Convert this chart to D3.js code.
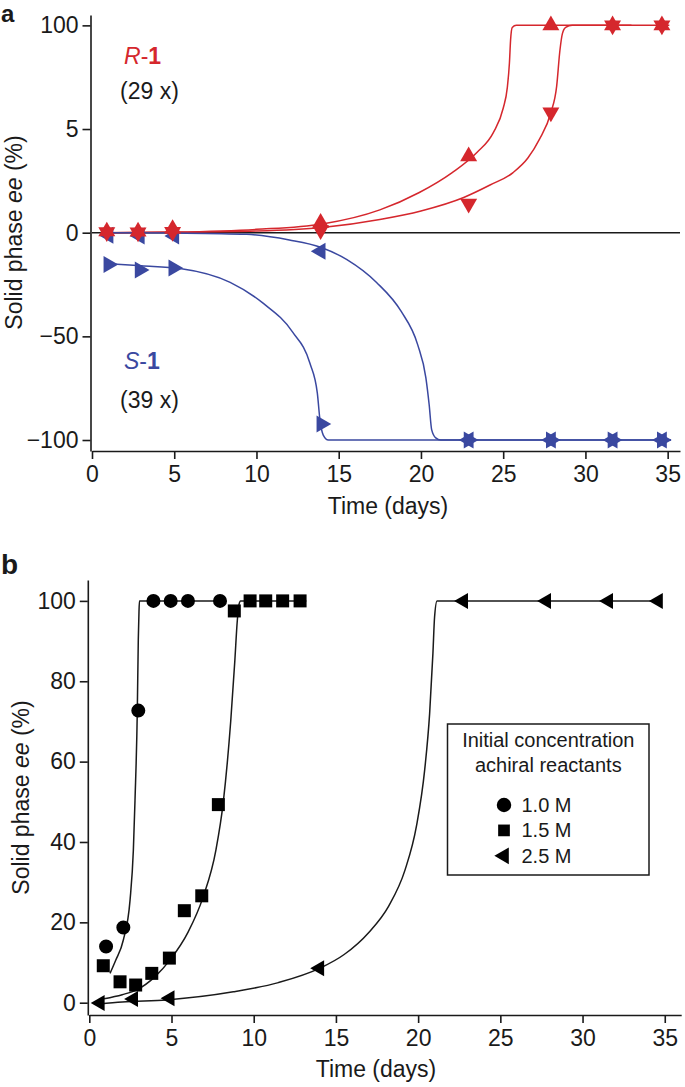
<!DOCTYPE html>
<html><head><meta charset="utf-8">
<script src="https://cdn.jsdelivr.net/npm/d3@7"></script>
<style>
body{margin:0;background:#fff}
svg{display:block}
text{font-family:"Liberation Sans",Arial,Helvetica,sans-serif}
</style>
</head><body>
<svg id="chart" width="685" height="1087"></svg>
<script>
// ---------- Panel a data ----------
const aXTicks = [0, 5, 10, 15, 20, 25, 30, 35];
const aXTickLabels = ["0", "5", "10", "15", "20", "25", "30", "35"];
const aYTicks = [-100, -50, 0, 50, 100];
const aYTickLabels = ["\u2212100", "\u221250", "0", "5", "100"];

const aRDays = [0.9, 2.8, 4.9, 13.9, 22.9, 27.9, 31.65, 34.65];
const aRUpValues = [0.6, 0.5, 1.8, 4.8, 36.8, 100, 100, 100];
const aRDownValues = [0.3, 0.1, 0.4, 1.2, 14, 58, 100, 100];
const aSLeftDays = [1.0, 2.9, 5.0, 13.9, 22.9, 27.9, 31.65, 34.65];
const aSLeftValues = [-1.2, -1.6, -1.6, -9, -100, -100, -100, -100];
const aSRightDays = [1.0, 2.9, 4.95, 13.95, 22.9, 27.9, 31.65, 34.65];
const aSRightValues = [-15.3, -18, -17, -92.3, -100, -100, -100, -100];

// fitted curves: [day, ee]
const aRUpCurve = [[0.9,0],[5,0.3],[10,1.6],[14,4.2],[17.5,11],[19.9,19.4],[21.9,29],[23.4,38.7],[24.4,48.3],[25.0,60],[25.25,70],[25.38,82],[25.45,93],[25.55,99],[25.8,100],[32.8,100]];
const aRDownCurve = [[0.9,0],[5,0.2],[10,0.8],[14,2.5],[17.5,6.4],[20,10.5],[22.6,17],[24.2,23],[25.6,29],[26.5,36],[27.2,45],[27.9,58],[28.25,70.6],[28.45,88],[28.6,96],[28.8,99],[29.2,100],[35.1,100]];
const aSLeftCurve = [[0.9,0],[5,-0.2],[9.4,-0.8],[12,-3.5],[13.9,-7],[15.5,-13],[17.3,-24],[18.8,-38],[19.8,-54],[20.3,-70],[20.5,-83],[20.65,-95],[20.9,-99],[21.2,-100],[35.2,-100]];
const aSRightCurve = [[1.0,-15],[3,-16],[5.35,-17.3],[8.4,-24],[10.4,-34],[12.2,-48],[13.25,-63],[13.7,-77.4],[13.86,-90.3],[14.06,-97.6],[14.37,-100],[35.2,-100]];

// ---------- Panel b data ----------
const bXTicks = [0, 5, 10, 15, 20, 25, 30, 35];
const bXTickLabels = ["0", "5", "10", "15", "20", "25", "30", "35"];
const bYTicks = [0, 20, 40, 60, 80, 100];
const bYTickLabels = ["0", "20", "40", "60", "80", "100"];

const bCircleDays = [1.02, 2.07, 2.98, 3.9, 4.95, 6.0, 7.95];
const bCircleValues = [14, 18.7, 72.7, 100, 100, 100, 100];
const bSquareDays = [0.85, 1.87, 2.82, 3.8, 4.87, 5.78, 6.84, 7.85, 8.82, 9.78, 10.73, 11.76, 12.82];
const bSquareValues = [9.2, 5.2, 4.4, 7.3, 11.1, 22.9, 26.6, 49.3, 97.5, 100, 100, 100, 100];
const bTriDays = [0.65, 2.68, 4.9, 14.0, 22.75, 27.8, 31.57, 34.6];
const bTriValues = [-0.1, 0.9, 1.1, 8.6, 100, 100, 100, 100];

const bCircleCurve = [[1.26,7.3],[1.6,10.5],[2.07,15.6],[2.48,25.6],[2.68,38],[2.78,50.4],[2.92,72.7],[2.98,90.3],[3.02,97],[3.05,100],[8.2,100]];
const bSquareCurve = [[0.9,1],[2,2],[2.88,3.2],[4,6.5],[4.9,10.6],[6,17.5],[6.93,26.4],[7.7,38],[8.15,50],[8.6,70],[8.85,85],[9.0,95],[9.1,99],[9.2,100],[13.2,100]];
const bTriCurve = [[0.6,-0.3],[2,0.2],[4.7,0.7],[8.76,2.7],[11.5,5],[14.03,8.6],[15.5,12],[17,17.5],[18.2,24],[19.2,33],[19.9,44],[20.4,58],[20.7,72],[20.9,87],[21.0,96],[21.15,100],[34.7,100]];

const legendTitle = ["Initial concentration", "achiral reactants"];
const legendLabels = ["1.0 M", "1.5 M", "2.5 M"];

// ---------- drawing ----------
const svg = d3.select("#chart");
const RED = "#d5272d", BLUE = "#3a48a0", INK = "#1a1a1a";
const FS = 23;

const xA = d3.scaleLinear().domain([0, 35.75]).range([92, 680]);
const yA = d3.scaleLinear().domain([-105.3, 105]).range([451, 15]);
const xB = d3.scaleLinear().domain([0, 36]).range([89.3, 681.2]);
const yB = d3.scaleLinear().domain([-3.06, 105.2]).range([1015, 580]);

function styleAxis(g) {
  g.select(".domain").attr("stroke", INK).attr("stroke-width", 1.6);
  g.selectAll(".tick line").attr("stroke", INK).attr("stroke-width", 1.6);
  g.selectAll(".tick text").attr("fill", INK).attr("font-size", FS)
    .attr("font-family", '"Liberation Sans", Arial, sans-serif');
}

function axes(x, y, xt, xl, yt, yl) {
  const [y0] = y.range();
  const [x0] = x.range();
  svg.append("g").attr("transform", `translate(0,${y0})`)
    .call(d3.axisBottom(x).tickValues(xt).tickFormat((d, i) => xl[i]).tickSize(8).tickSizeOuter(0).tickPadding(7))
    .call(styleAxis);
  svg.append("g").attr("transform", `translate(${x0 - 1.5},0)`)
    .call(d3.axisLeft(y).tickValues(yt).tickFormat((d, i) => yl[i]).tickSize(8).tickSizeOuter(0).tickPadding(4))
    .call(styleAxis);
}

function yTitle(cx, cy) {
  const t = svg.append("text").attr("transform", `translate(${cx},${cy}) rotate(-90)`)
    .attr("text-anchor", "middle").attr("font-size", FS).attr("fill", INK);
  t.append("tspan").text("Solid phase ");
  t.append("tspan").attr("font-style", "italic").text("ee");
  t.append("tspan").text(" (%)");
}

const lineA = d3.line().x(d => xA(d[0])).y(d => yA(d[1])).curve(d3.curveMonotoneX);
const lineB = d3.line().x(d => xB(d[0])).y(d => yB(d[1])).curve(d3.curveMonotoneX);

function markers(xs, ys, xScale, yScale, symType, size, rot, color) {
  const path = d3.symbol().type(symType).size(size)();
  svg.append("g").selectAll("path").data(xs).join("path")
    .attr("d", path)
    .attr("transform", (d, i) => `translate(${xScale(d)},${yScale(ys[i])}) rotate(${rot})`)
    .attr("fill", color);
}

// ===== Panel a =====
svg.append("text").attr("x", 1).attr("y", 22).attr("font-size", 24).attr("font-weight", "bold").attr("fill", INK).text("a");
axes(xA, yA, aXTicks, aXTickLabels, aYTicks, aYTickLabels);
// zero line
svg.append("line").attr("x1", xA(0)).attr("x2", xA(35.75)).attr("y1", yA(0)).attr("y2", yA(0))
  .attr("stroke", INK).attr("stroke-width", 1.6);

[[aRUpCurve, RED], [aRDownCurve, RED], [aSLeftCurve, BLUE], [aSRightCurve, BLUE]].forEach(([c, col]) => {
  svg.append("path").attr("d", lineA(c)).attr("fill", "none").attr("stroke", col).attr("stroke-width", 1.5);
});

const TA = 125;
markers(aSLeftDays, aSLeftValues, xA, yA, d3.symbolTriangle, TA, -90, BLUE);
markers(aSRightDays, aSRightValues, xA, yA, d3.symbolTriangle, TA, 90, BLUE);
markers(aRDays, aRUpValues, xA, yA, d3.symbolTriangle, TA, 0, RED);
markers(aRDays, aRDownValues, xA, yA, d3.symbolTriangle, TA, 180, RED);

yTitle(21.5, 232.5);
svg.append("text").attr("x", 388).attr("y", 514).attr("text-anchor", "middle").attr("font-size", FS).attr("fill", INK).text("Time (days)");

// annotations
function enantLabel(x, y, letter, color) {
  const t = svg.append("text").attr("x", x).attr("y", y).attr("font-size", 23).attr("fill", color);
  t.append("tspan").attr("font-style", "italic").text(letter);
  t.append("tspan").text("-");
  t.append("tspan").attr("font-weight", "bold").text("1");
}
enantLabel(124, 64, "R", RED);
svg.append("text").attr("x", 120).attr("y", 99).attr("font-size", 23).attr("fill", INK).text("(29 x)");
enantLabel(124, 369, "S", BLUE);
svg.append("text").attr("x", 120).attr("y", 408).attr("font-size", 23).attr("fill", INK).text("(39 x)");

// ===== Panel b =====
svg.append("text").attr("x", 1).attr("y", 574).attr("font-size", 28).attr("font-weight", "bold").attr("fill", INK).text("b");
axes(xB, yB, bXTicks, bXTickLabels, bYTicks, bYTickLabels);

[bCircleCurve, bSquareCurve, bTriCurve].forEach(c => {
  svg.append("path").attr("d", lineB(c)).attr("fill", "none").attr("stroke", INK).attr("stroke-width", 1.5);
});

markers(bCircleDays, bCircleValues, xB, yB, d3.symbolCircle, 154, 0, "#000");
markers(bSquareDays, bSquareValues, xB, yB, d3.symbolSquare, 169, 0, "#000");
markers(bTriDays, bTriValues, xB, yB, d3.symbolTriangle, 111, -90, "#000");

yTitle(29, 797.5);
svg.append("text").attr("x", 376).attr("y", 1077).attr("text-anchor", "middle").attr("font-size", FS).attr("fill", INK).text("Time (days)");

// legend
svg.append("rect").attr("x", 447.5).attr("y", 724).attr("width", 201.5).attr("height", 151)
  .attr("fill", "#fff").attr("stroke", INK).attr("stroke-width", 1.5);
legendTitle.forEach((s, i) => {
  svg.append("text").attr("x", 548.3).attr("y", 747 + i * 25).attr("text-anchor", "middle")
    .attr("font-size", 20).attr("fill", INK).text(s);
});
const legSyms = [[d3.symbolCircle, 165, 0], [d3.symbolSquare, 137, 0], [d3.symbolTriangle, 121, -90]];
legendLabels.forEach((s, i) => {
  const cy = 805 + i * 25.4;
  svg.append("path").attr("d", d3.symbol().type(legSyms[i][0]).size(legSyms[i][1])())
    .attr("transform", `translate(504,${cy}) rotate(${legSyms[i][2]})`).attr("fill", "#000");
  svg.append("text").attr("x", 521.5).attr("y", cy + 7).attr("font-size", 20).attr("fill", INK).text(s);
});
</script>
</body></html>
